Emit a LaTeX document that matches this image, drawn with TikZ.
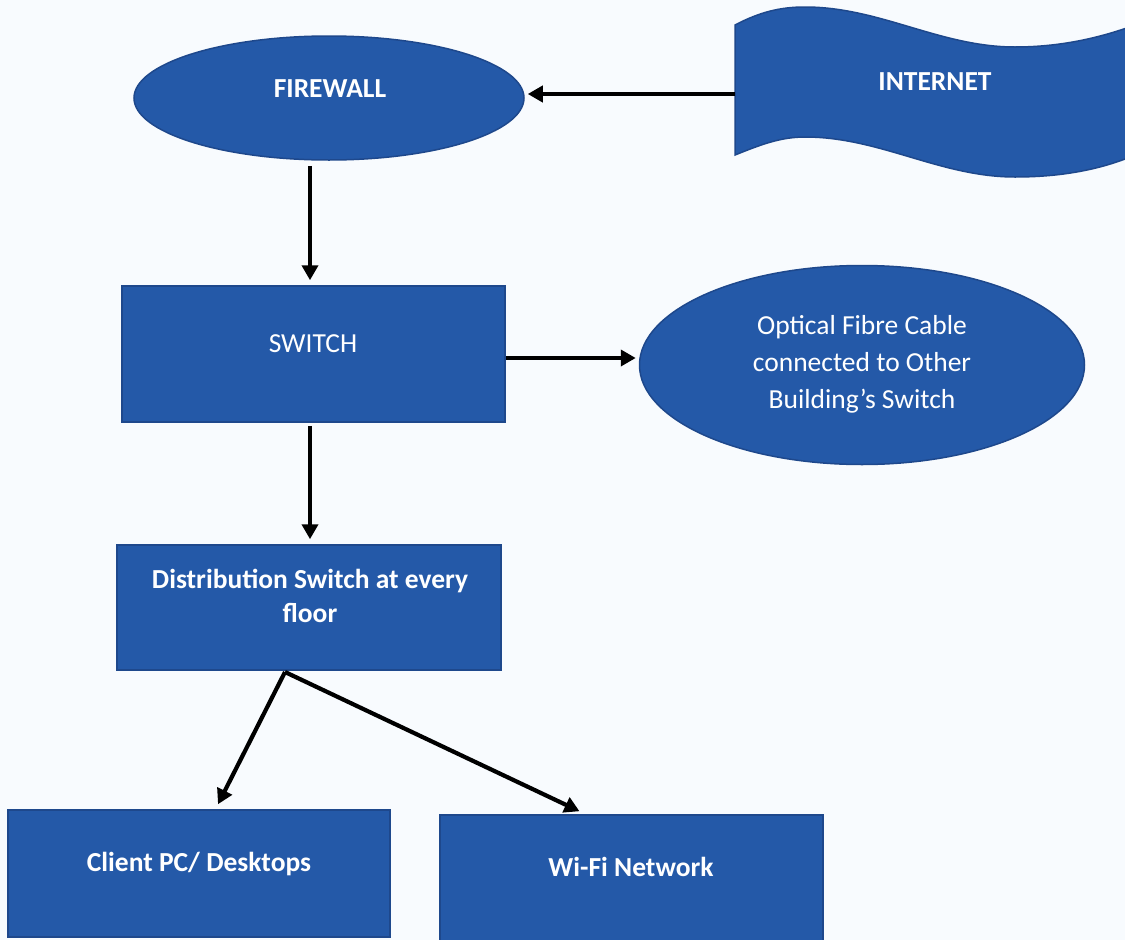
\documentclass[tikz,border=0pt]{standalone}
\usepackage{fontspec}
\setmainfont{Carlito}
\usetikzlibrary{arrows.meta,shapes.geometric}
\definecolor{boxblue}{RGB}{36,89,168}
\definecolor{boxedge}{RGB}{30,72,140}
\definecolor{paper}{RGB}{248,251,254}
\tikzset{
  shp/.style={fill=boxblue,draw=boxedge,line width=1.5pt,inner sep=0pt},
  rbox/.style={shp,rectangle},
  ebox/.style={shp,ellipse},
  txt/.style={text=white,font=\fontsize{27.5}{37}\selectfont,align=center,inner sep=0pt,anchor=base},
  btxt/.style={txt,font=\fontsize{27.5}{34}\selectfont\bfseries},
  conn/.style={line width=4.2pt,-{Triangle[length=15pt,width=16pt]}}
}
\begin{document}
\begin{tikzpicture}[x=1pt,y=-1pt]
\useasboundingbox (0,0) rectangle (1125,940);
\fill[paper] (0,0) rectangle (1125,940);
% Internet wave
\filldraw[fill=boxblue,draw=boxedge,line width=1.5pt]
  (735,25) .. controls (760,12) and (780,7) .. (805,7)
  .. controls (880,7) and (940,47) .. (1015,47)
  .. controls (1060,47) and (1100,38) .. (1135,25)
  -- (1135,155)
  .. controls (1100,170) and (1060,177) .. (1015,177)
  .. controls (940,177) and (880,137) .. (805,137)
  .. controls (780,137) and (760,145) .. (735,155) -- cycle;
\node[btxt] (inet) at (935,90) {INTERNET};
\coordinate (inetL) at (735,94);
% shapes
\node[ebox,minimum width=390,minimum height=124] (fw) at (329,98) {};
\node[btxt] at (330,97) {FIREWALL};
\node[rbox,minimum width=383,minimum height=136] (sw) at (313.5,354) {};
\node[txt] at (313,352) {SWITCH};
\node[ebox,minimum width=445,minimum height=199] (ofc) at (862,365) {};
\node[txt] at (862,408) {Optical Fibre Cable\\connected to Other\\Building’s Switch};
\node[rbox,minimum width=384,minimum height=125] (dist) at (309,607.5) {};
\node[btxt] at (310,622) {Distribution Switch at every\\floor};
\node[rbox,minimum width=382,minimum height=127] (cli) at (199,873.5) {};
\node[btxt] at (199,871) {Client PC/ Desktops};
\node[rbox,minimum width=383,minimum height=130] (wifi) at (631.5,880) {};
\node[btxt] at (631,876) {Wi-Fi Network};
% connectors
\draw[conn] (inetL) -- ([xshift=3]fw.east |- inetL);
\draw[conn] ([xshift=-19,yshift=-5]fw.south) -- ([yshift=5]sw.north -| 310,0);
\draw[conn] (sw.east |- 0,358) -- ([xshift=-3]ofc.west |- 0,358);
\draw[conn] ([yshift=-3]sw.south -| 310,0) -- ([yshift=5]dist.north -| 310,0);
\coordinate (dsrc) at (285,672);
\draw[conn] (dsrc) -- ([xshift=19,yshift=5]cli.north);
\draw[conn] (dsrc) -- ([xshift=-52,yshift=3]wifi.north);
\end{tikzpicture}
\end{document}
